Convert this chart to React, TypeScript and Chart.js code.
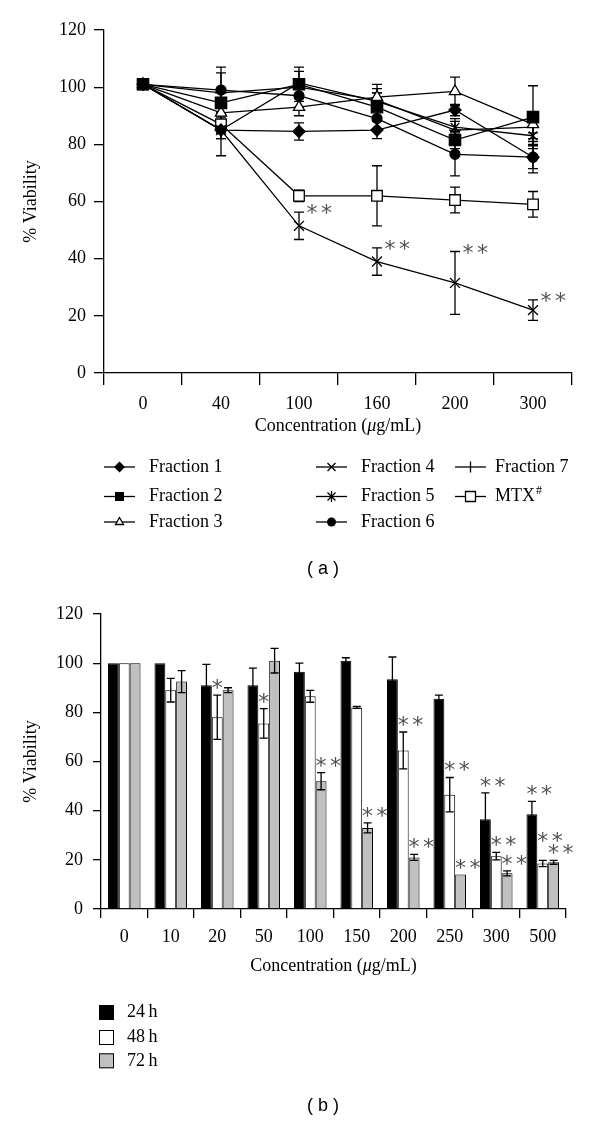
import React, { useEffect, useRef } from 'react';
import { Chart, registerables } from 'chart.js';

Chart.register(...registerables);

// ---------- Panel (a) data ----------
const concA = ['0', '40', '100', '160', '200', '300'];
const frac1 = [101, 85, 84.5, 85, 92, 75.5];
const frac1Err = [0, 3, 3, 3, 2, 4];
const frac2 = [101, 94.5, 101, 93, 81.5, 89.5];
const frac2Err = [0, 5, 6, 5, 3, 11];
const frac3 = [101, 91, 93, 96.5, 98.5, 87];
const frac3Err = [0, 4, 3, 4.5, 5, 3];
const frac4 = [101, 85, 101.5, 95, 86, 83];
const frac4Err = [0, 9, 4, 3, 3, 3];
const frac5 = [101, 85, 51.5, 39, 31.5, 22];
const frac5Err = [0, 3, 4.8, 4.8, 11, 3.6];
const frac6 = [101, 99, 97, 89, 76.5, 75.5];
const frac6Err = [0, 8, 4, 4, 7.5, 5.5];
const frac7 = [101, 98, 100, 95.5, 85, 86];
const frac7Err = [0, 7, 3, 4, 3, 4];
const mtx = [101, 87, 62, 62, 60.5, 59];
const mtxErr = [0, 3, 2, 10.5, 4.5, 4.5];
const frac5Sig = ['', '', '**', '**', '**', '**'];
const yTicksA = [0, 20, 40, 60, 80, 100, 120];

// ---------- Panel (b) data ----------
const concB = ['0', '10', '20', '50', '100', '150', '200', '250', '300', '500'];
const h24 = [100, 100, 91, 91, 96.5, 101, 93.5, 85.5, 36.5, 38.5];
const h24Err = [0, 0, 8.5, 7, 3.5, 1.2, 9, 1.5, 10.7, 5.3];
const h48 = [100, 89, 78, 75.5, 86.5, 82, 64.5, 46.5, 21.5, 18.5];
const h48Err = [0, 4.8, 9, 6, 2.4, 0.4, 7.5, 7, 1.5, 1.3];
const h72 = [100, 92.5, 89, 101, 52, 33, 21, 14, 14.5, 19];
const h72Err = [0, 4.5, 1, 5, 3.5, 2, 1.2, 0, 1, 0.8];
const h24Sig = ['', '', '', '', '', '', '', '', '**', '**'];
const h48Sig = ['', '', '*', '*', '', '', '**', '**', '**', '**'];
const h72Sig = ['', '', '', '', '**', '**', '**', '**', '**', '**'];
const timeLabels = ['24\u2009h', '48\u2009h', '72\u2009h'];

const SERIF = "'Liberation Serif', 'DejaVu Serif', serif";
const STAR_GAP = 14.5;

function drawStar(ctx: CanvasRenderingContext2D, cx: number, cy: number) {
  ctx.save();
  ctx.font = "22px 'DejaVu Sans'";
  ctx.fillStyle = '#505050';
  ctx.textAlign = 'center';
  ctx.textBaseline = 'alphabetic';
  const m = ctx.measureText('*');
  const asc = m.actualBoundingBoxAscent || 12;
  const desc = m.actualBoundingBoxDescent || 0;
  ctx.fillText('*', cx, cy + (asc - desc) / 2);
  ctx.restore();
}

function drawSig(ctx: CanvasRenderingContext2D, txt: string, x: number, y: number) {
  for (let k = 0; k < txt.length; k++) drawStar(ctx, x + k * STAR_GAP, y);
}

function drawXTitle(ctx: CanvasRenderingContext2D, cx: number, baseline: number) {
  const parts: [string, boolean][] = [['Concentration (', false], ['\u03bc', true], ['g/mL)', false]];
  ctx.save();
  ctx.fillStyle = '#000';
  ctx.textBaseline = 'alphabetic';
  ctx.textAlign = 'left';
  let total = 0;
  for (const [t, it] of parts) {
    ctx.font = `${it ? 'italic ' : ''}18px ${SERIF}`;
    total += ctx.measureText(t).width;
  }
  let x = cx - total / 2;
  for (const [t, it] of parts) {
    ctx.font = `${it ? 'italic ' : ''}18px ${SERIF}`;
    ctx.fillText(t, x, baseline);
    x += ctx.measureText(t).width;
  }
  ctx.restore();
}

function drawYTitle(ctx: CanvasRenderingContext2D, x: number, cy: number) {
  ctx.save();
  ctx.translate(x, cy);
  ctx.rotate(-Math.PI / 2);
  ctx.font = `18px ${SERIF}`;
  ctx.fillStyle = '#000';
  ctx.textAlign = 'center';
  ctx.textBaseline = 'alphabetic';
  ctx.fillText('% Viability', 0, 0);
  ctx.restore();
}

function drawPanelLabel(ctx: CanvasRenderingContext2D, txt: string, cx: number, cy: number) {
  ctx.save();
  ctx.font = "18px 'Liberation Sans', Arial, sans-serif";
  ctx.fillStyle = '#000';
  ctx.textAlign = 'center';
  ctx.textBaseline = 'middle';
  ctx.fillText(txt, cx, cy);
  ctx.restore();
}

function legendMarker(ctx: CanvasRenderingContext2D, style: string, x: number, y: number) {
  ctx.save();
  ctx.lineWidth = 1.3;
  ctx.strokeStyle = '#000';
  ctx.fillStyle = '#000';
  ctx.beginPath();
  switch (style) {
    case 'diamond':
      ctx.moveTo(x, y - 5.5); ctx.lineTo(x + 5.5, y); ctx.lineTo(x, y + 5.5); ctx.lineTo(x - 5.5, y); ctx.closePath(); ctx.fill();
      break;
    case 'square':
      ctx.fillRect(x - 4.5, y - 4.5, 9, 9);
      break;
    case 'triangle':
      ctx.moveTo(x, y - 4.5); ctx.lineTo(x + 4, y + 2.5); ctx.lineTo(x - 4, y + 2.5); ctx.closePath();
      ctx.fillStyle = '#fff'; ctx.fill(); ctx.stroke();
      break;
    case 'x':
      ctx.moveTo(x - 4, y - 4); ctx.lineTo(x + 4, y + 4); ctx.moveTo(x - 4, y + 4); ctx.lineTo(x + 4, y - 4); ctx.stroke();
      break;
    case 'star':
      ctx.moveTo(x - 4, y - 4); ctx.lineTo(x + 4, y + 4); ctx.moveTo(x - 4, y + 4); ctx.lineTo(x + 4, y - 4);
      ctx.moveTo(x, y - 5.5); ctx.lineTo(x, y + 5.5); ctx.stroke();
      break;
    case 'circle':
      ctx.arc(x, y, 4.5, 0, Math.PI * 2); ctx.fill();
      break;
    case 'plus':
      ctx.moveTo(x, y - 5.5); ctx.lineTo(x, y + 5.5); ctx.stroke();
      break;
    case 'open':
      ctx.rect(x - 5, y - 5, 10, 10); ctx.fillStyle = '#fff'; ctx.fill(); ctx.stroke();
      break;
  }
  ctx.restore();
}

function errorBars(ctx: CanvasRenderingContext2D, chart: any, capHalf: number) {
  const yScale = chart.scales.y;
  chart.data.datasets.forEach((ds: any, i: number) => {
    const errs: number[] | undefined = ds.errors;
    if (!errs) return;
    const meta = chart.getDatasetMeta(i);
    meta.data.forEach((el: any, j: number) => {
      const e = errs[j];
      if (!e) return;
      const v = ds.data[j];
      const yt = yScale.getPixelForValue(v + e);
      const yb = yScale.getPixelForValue(v - e);
      ctx.save();
      ctx.strokeStyle = '#000';
      ctx.lineWidth = 1.3;
      ctx.beginPath();
      ctx.moveTo(el.x, yt); ctx.lineTo(el.x, yb);
      ctx.moveTo(el.x - capHalf, yt); ctx.lineTo(el.x + capHalf, yt);
      ctx.moveTo(el.x - capHalf, yb); ctx.lineTo(el.x + capHalf, yb);
      ctx.stroke();
      ctx.restore();
    });
  });
}

function lineDs(label: string, data: number[], errors: number[], pointStyle: string, radius: number, fill: string, sig?: string[]) {
  return {
    label, data, errors, sig,
    borderColor: '#000', borderWidth: 1.3,
    pointStyle, pointRadius: radius, pointBorderWidth: 1.3,
    pointBackgroundColor: fill, pointBorderColor: '#000',
    fill: false, tension: 0,
  } as any;
}

const legendA = [
  { label: 'Fraction 1', style: 'diamond', col: 0, row: 0 },
  { label: 'Fraction 2', style: 'square', col: 0, row: 1 },
  { label: 'Fraction 3', style: 'triangle', col: 0, row: 2 },
  { label: 'Fraction 4', style: 'x', col: 1, row: 0 },
  { label: 'Fraction 5', style: 'star', col: 1, row: 1 },
  { label: 'Fraction 6', style: 'circle', col: 1, row: 2 },
  { label: 'Fraction 7', style: 'plus', col: 2, row: 0 },
  { label: 'MTX', style: 'open', col: 2, row: 1, sup: '#' },
];

export default function App() {
  const refA = useRef<HTMLCanvasElement>(null);
  const refB = useRef<HTMLCanvasElement>(null);

  useEffect(() => {
    const tickFont = { family: SERIF, size: 18 };

    const pluginA = {
      id: 'decorA',
      beforeDatasetsDraw(chart: any) {
        errorBars(chart.ctx, chart, 5);
      },
      afterDraw(chart: any) {
        const ctx = chart.ctx as CanvasRenderingContext2D;
        const ca = chart.chartArea;
        const yScale = chart.scales.y;
        chart.data.datasets.forEach((ds: any, i: number) => {
          if (!ds.sig) return;
          const meta = chart.getDatasetMeta(i);
          meta.data.forEach((el: any, j: number) => {
            const s = ds.sig[j];
            if (!s) return;
            const top = yScale.getPixelForValue(ds.data[j] + (ds.errors[j] || 0));
            drawSig(ctx, s, el.x + 13, top - 3);
          });
        });
        drawXTitle(ctx, (ca.left + ca.right) / 2, 431);
        drawYTitle(ctx, 36, (ca.top + ca.bottom) / 2);
        const colLine = [104, 316, 455];
        const colText = [149, 361, 495];
        const rowY = [467, 496.5, 522];
        ctx.save();
        legendA.forEach((it: any) => {
          const x0 = colLine[it.col];
          const y = rowY[it.row];
          ctx.strokeStyle = '#000';
          ctx.lineWidth = 1.3;
          ctx.beginPath();
          ctx.moveTo(x0, y); ctx.lineTo(x0 + 31, y); ctx.stroke();
          legendMarker(ctx, it.style, x0 + 15.5, y);
          ctx.font = `18px ${SERIF}`;
          ctx.fillStyle = '#000';
          ctx.textAlign = 'left';
          ctx.textBaseline = 'middle';
          ctx.fillText(it.label, colText[it.col], y);
          if (it.sup) {
            const w = ctx.measureText(it.label).width;
            ctx.font = `12px ${SERIF}`;
            ctx.fillText(it.sup, colText[it.col] + w + 1, y - 6);
          }
        });
        ctx.restore();
        drawPanelLabel(ctx, '( a )', 323, 569);
      },
    };

    const chartA = new Chart(refA.current as HTMLCanvasElement, {
      type: 'line',
      data: {
        labels: concA,
        datasets: [
          lineDs('Fraction 2', frac2, frac2Err, 'rect', 8, '#000'),
          lineDs('Fraction 1', frac1, frac1Err, 'rectRot', 6, '#000'),
          lineDs('Fraction 3', frac3, frac3Err, 'triangle', 6.5, '#fff'),
          lineDs('Fraction 4', frac4, frac4Err, 'crossRot', 6, '#000'),
          lineDs('Fraction 5', frac5, frac5Err, 'crossRot', 7, '#000', frac5Sig),
          lineDs('Fraction 6', frac6, frac6Err, 'circle', 5, '#000'),
          lineDs('Fraction 7', frac7, frac7Err, 'cross', 6, '#000'),
          lineDs('MTX#', mtx, mtxErr, 'rect', 7.5, '#fff'),
        ],
      },
      options: {
        responsive: false,
        animation: false,
        events: [],
        layout: { padding: { top: 30, right: 28, bottom: 580 - 373 - 60, left: 0 } },
        plugins: { legend: { display: false }, tooltip: { enabled: false } },
        scales: {
          x: {
            type: 'category',
            offset: true,
            grid: { offset: true, drawOnChartArea: false, drawTicks: true, tickLength: 12, color: '#000', lineWidth: 1.3 },
            border: { display: true, color: '#000', width: 1.3 },
            ticks: { color: '#000', font: tickFont, padding: 8, maxRotation: 0, autoSkip: false },
            afterFit: (s: any) => { s.height = 60; },
          },
          y: {
            min: yTicksA[0],
            max: yTicksA[yTicksA.length - 1],
            grid: { drawOnChartArea: false, drawTicks: true, tickLength: 10, color: '#000', lineWidth: 1.3 },
            border: { display: true, color: '#000', width: 1.3 },
            ticks: { stepSize: 20, color: '#000', font: tickFont, padding: 8 },
            afterFit: (s: any) => { s.width = 104; },
          },
        },
      } as any,
      plugins: [pluginA],
    });

    const pluginB = {
      id: 'decorB',
      afterDatasetsDraw(chart: any) {
        errorBars(chart.ctx, chart, 4);
      },
      afterDraw(chart: any) {
        const ctx = chart.ctx as CanvasRenderingContext2D;
        const ca = chart.chartArea;
        const yScale = chart.scales.y;
        // place significance marks, last series first, nudging up to avoid collisions
        const placed: { x1: number; x2: number; y1: number; y2: number }[] = [];
        const n = chart.data.datasets.length;
        for (let i = n - 1; i >= 0; i--) {
          const ds: any = chart.data.datasets[i];
          const meta = chart.getDatasetMeta(i);
          meta.data.forEach((el: any, j: number) => {
            const s = ds.sig[j];
            if (!s) return;
            const top = yScale.getPixelForValue(ds.data[j] + (ds.errors[j] || 0));
            let y = top - 11;
            const x1 = el.x - 5;
            const x2 = el.x + STAR_GAP * (s.length - 1) + 5;
            const hits = (yy: number) => placed.some(b => x1 < b.x2 && x2 > b.x1 && yy - 6 < b.y2 && yy + 6 > b.y1);
            let guard = 0;
            while (hits(y) && guard < 40) { y -= 1; guard++; }
            placed.push({ x1, x2, y1: y - 6, y2: y + 6 });
            drawSig(ctx, s, el.x, y);
          });
        }
        drawXTitle(ctx, (ca.left + ca.right) / 2, 391);
        drawYTitle(ctx, 36, (ca.top + ca.bottom) / 2);
        const rowY = [432.5, 457.5, 480.8];
        const fills = ['#000', '#fff', '#c0c0c0'];
        ctx.save();
        timeLabels.forEach((t, k) => {
          const y = rowY[k];
          ctx.fillStyle = fills[k];
          ctx.fillRect(99, y - 7.5, 15, 15);
          ctx.strokeStyle = '#000';
          ctx.lineWidth = 1;
          ctx.strokeRect(99.5, y - 7, 14, 14);
          ctx.font = `18px ${SERIF}`;
          ctx.fillStyle = '#000';
          ctx.textAlign = 'left';
          ctx.textBaseline = 'middle';
          ctx.fillText(t, 127, y);
        });
        ctx.restore();
        drawPanelLabel(ctx, '( b )', 323, 526);
      },
    };

    const barDs = (label: string, data: number[], errors: number[], sig: string[], color: string) => ({
      label, data, errors, sig,
      backgroundColor: color, borderColor: '#000', borderWidth: 1,
      categoryPercentage: 0.7, barPercentage: 1.0,
    } as any);

    const chartB = new Chart(refB.current as HTMLCanvasElement, {
      type: 'bar',
      data: {
        labels: concB,
        datasets: [
          barDs(timeLabels[0], h24, h24Err, h24Sig, '#000'),
          barDs(timeLabels[1], h48, h48Err, h48Sig, '#fff'),
          barDs(timeLabels[2], h72, h72Err, h72Sig, '#c0c0c0'),
        ],
      },
      options: {
        responsive: false,
        animation: false,
        events: [],
        layout: { padding: { top: 34, right: 34, bottom: 541 - 329 - 60, left: 0 } },
        plugins: { legend: { display: false }, tooltip: { enabled: false } },
        scales: {
          x: {
            grid: { offset: true, drawOnChartArea: false, drawTicks: true, tickLength: 9, color: '#000', lineWidth: 1.3 },
            border: { display: true, color: '#000', width: 1.3 },
            ticks: { color: '#000', font: tickFont, padding: 8, maxRotation: 0, autoSkip: false },
            afterFit: (s: any) => { s.height = 60; },
          },
          y: {
            min: 0,
            max: 120,
            grid: { drawOnChartArea: false, drawTicks: true, tickLength: 8, color: '#000', lineWidth: 1.3 },
            border: { display: true, color: '#000', width: 1.3 },
            ticks: { stepSize: 20, color: '#000', font: tickFont, padding: 10 },
            afterFit: (s: any) => { s.width = 101; },
          },
        },
      } as any,
      plugins: [pluginB],
    });

    return () => {
      chartA.destroy();
      chartB.destroy();
    };
  }, []);

  return (
    <div style={{ position: 'absolute', left: 0, top: 0, width: 600, height: 1121, background: '#fff' }}>
      <canvas ref={refA} width={600} height={580} style={{ position: 'absolute', left: 0, top: 0, display: 'block' }} />
      <canvas ref={refB} width={600} height={541} style={{ position: 'absolute', left: 0, top: 580, display: 'block' }} />
    </div>
  );
}
